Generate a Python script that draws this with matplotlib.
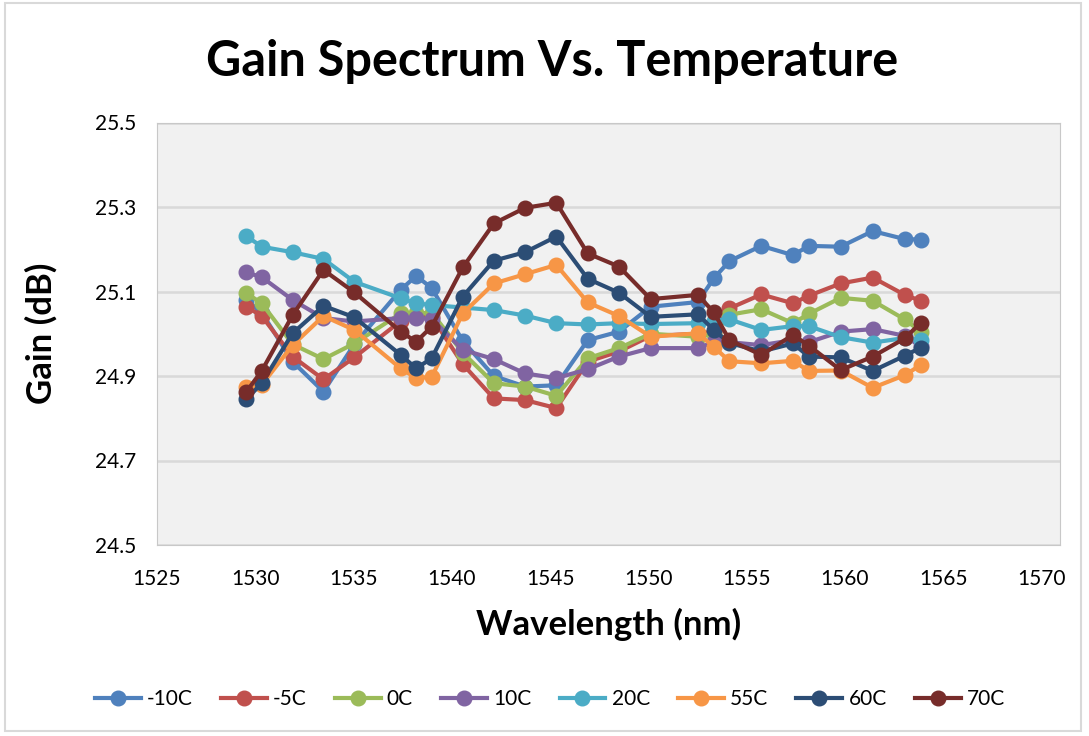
import matplotlib
matplotlib.use("Agg")
import matplotlib.pyplot as plt
from matplotlib.patches import Rectangle

plt.rcParams['font.family'] = ['Lato', 'DejaVu Sans']

# ITU channel wavelengths (nm)
wavelength = [1529.55, 1530.33, 1531.90, 1533.47, 1535.04, 1537.40, 1538.19, 1538.98,
              1540.56, 1542.14, 1543.73, 1545.32, 1546.92, 1548.51, 1550.12, 1552.52,
              1553.33, 1554.13, 1555.75, 1557.36, 1558.17, 1559.79, 1561.42, 1563.05, 1563.86]

# Gain (dB) per temperature
gain_m10 = [25.080, 25.050, 24.934, 24.863, 24.975, 25.104, 25.137, 25.108, 24.983, 24.900,
            24.875, 24.878, 24.985, 25.005, 25.064, 25.075, 25.131, 25.172, 25.208, 25.186,
            25.208, 25.206, 25.243, 25.224, 25.223]
gain_m5 = [25.064, 25.042, 24.946, 24.892, 24.944, 25.030, 25.040, 25.040, 24.928, 24.847,
           24.843, 24.824, 24.934, 24.958, 24.995, 25.000, 25.005, 25.060, 25.093, 25.072,
           25.090, 25.119, 25.133, 25.092, 25.078]
gain_0 = [25.096, 25.072, 24.975, 24.940, 24.977, 25.048, 25.048, 25.050, 24.955, 24.883,
          24.875, 24.853, 24.942, 24.966, 25.000, 24.993, 25.000, 25.045, 25.058, 25.025,
          25.047, 25.085, 25.078, 25.034, 25.005]
gain_10 = [25.145, 25.134, 25.080, 25.037, 25.029, 25.037, 25.037, 25.035, 24.962, 24.940,
           24.906, 24.895, 24.916, 24.946, 24.966, 24.966, 24.980, 24.980, 24.973, 24.985,
           24.980, 25.005, 25.011, 24.995, 24.970]
gain_20 = [25.231, 25.206, 25.193, 25.177, 25.123, 25.084, 25.072, 25.068, 25.062, 25.056,
           25.043, 25.025, 25.022, 25.025, 25.023, 25.025, 25.030, 25.034, 25.009, 25.018,
           25.018, 24.992, 24.979, 24.990, 24.985]
gain_55 = [24.875, 24.879, 24.973, 25.042, 25.009, 24.918, 24.895, 24.898, 25.048, 25.119,
           25.141, 25.163, 25.074, 25.042, 24.993, 25.001, 24.969, 24.935, 24.930, 24.936,
           24.912, 24.913, 24.872, 24.902, 24.926]
gain_60 = [24.845, 24.883, 25.001, 25.066, 25.039, 24.950, 24.918, 24.942, 25.088, 25.173,
           25.193, 25.230, 25.130, 25.097, 25.040, 25.046, 25.009, 24.978, 24.958, 24.977,
           24.946, 24.944, 24.912, 24.948, 24.967]
gain_70 = [24.863, 24.912, 25.044, 25.151, 25.098, 25.005, 24.981, 25.017, 25.157, 25.261,
           25.298, 25.310, 25.190, 25.159, 25.082, 25.092, 25.051, 24.985, 24.950, 24.997,
           24.972, 24.914, 24.946, 24.989, 25.026]

labels = ['-10C', '-5C', '0C', '10C', '20C', '55C', '60C', '70C']
series = [gain_m10, gain_m5, gain_0, gain_10, gain_20, gain_55, gain_60, gain_70]
colors = ['#4F81BD', '#C0504D', '#9BBB59', '#8064A2', '#4BACC6', '#F79646', '#2C4D75', '#772C2A']
y_ticks = [24.5, 24.7, 24.9, 25.1, 25.3, 25.5]

W, H = 1089, 736
fig = plt.figure(figsize=(W / 100, H / 100), dpi=100)
fig.patches.append(Rectangle((5 / W, 5 / H), 1076 / W, 728 / H, transform=fig.transFigure,
                             fill=False, edgecolor='#d9d9d9', linewidth=1.5))

# plot area runs a bit past 1570 like the Excel original
ax = fig.add_axes([157 / W, 191 / H, 903 / W, 422.5 / H])
ax.set_facecolor('#f1f1f1')

for vals, lab, c in zip(series, labels, colors):
    ax.plot(wavelength, vals, '-o', color=c, label=lab, linewidth=3, markersize=10.5)

ax.set_xlim(1525, 1570.95)
ax.set_ylim(24.5, 25.5)
ax.set_xticks(range(1525, 1571, 5))
ax.set_yticks(y_ticks)
ax.set_yticklabels([f'{v:.1f}' for v in y_ticks])
ax.grid(axis='y', color='#d9d9d9', linewidth=1.8)
ax.set_axisbelow(True)
for s in ax.spines.values():
    s.set_color('#c8c8c8')
ax.tick_params(length=0, labelsize=15)
ax.tick_params(axis='y', pad=15)
ax.tick_params(axis='x', pad=17)

ax.set_xlabel('Wavelength (nm)', fontsize=25, fontweight='bold', labelpad=14)
ax.set_ylabel('Gain (dB)', fontsize=25, fontweight='bold')
ax.yaxis.set_label_coords((58 - 157) / 903, 0.5)
fig.text(552 / W, 1 - 62 / H, 'Gain Spectrum Vs. Temperature', fontsize=35, fontweight='bold',
         ha='center', va='center')

fig.legend(loc='center', bbox_to_anchor=(550 / W, 1 - 699 / H), ncol=8, frameon=False,
           fontsize=15, handlelength=2.2, columnspacing=1.35, handletextpad=0.3)

fig.savefig('out.png', dpi=100)
